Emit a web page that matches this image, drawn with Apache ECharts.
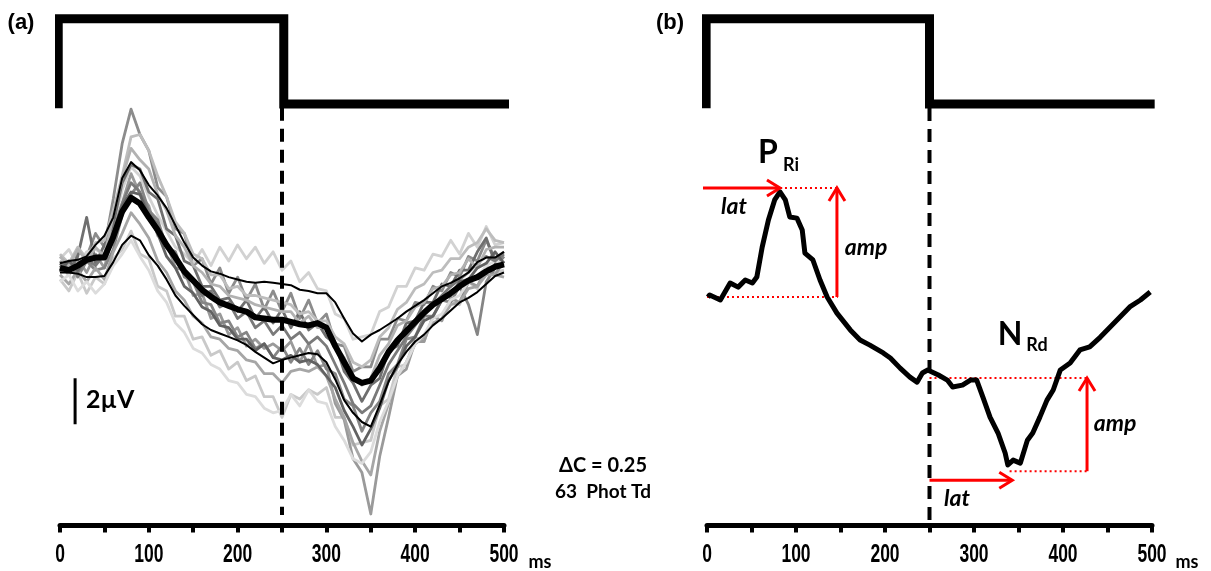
<!DOCTYPE html>
<html>
<head>
<meta charset="utf-8">
<script src="https://cdn.jsdelivr.net/npm/echarts@6/dist/echarts.min.js"></script>
<style>
  html, body { margin: 0; padding: 0; background: #fff; }
  #chart { width: 1211px; height: 571px; }
</style>
</head>
<body>
<div id="chart"></div>
<script>
// ---------- Panel (a): single sweeps, their spread and the average (µV vs ms) ----------
const timesA = [0,10,20,30,40,50,60,70,80,90,100,110,120,130,140,150,160,170,180,190,
  200,210,220,230,240,250,260,270,280,290,300,310,320,330,340,350,360,370,380,390,
  400,410,420,430,440,450,460,470,480,490,500];

const meanA = [0,-0.1,0.1,0.35,0.45,0.45,1.35,2.45,3.05,2.8,
  2.2,1.65,1.0,0.45,-0.15,-0.55,-0.95,-1.25,-1.5,-1.65,
  -1.8,-1.9,-2.15,-2.2,-2.25,-2.25,-2.35,-2.45,-2.5,-2.4,
  -2.6,-3.4,-4.1,-4.8,-5.0,-4.9,-4.35,-3.65,-3.15,-2.75,
  -2.35,-1.95,-1.6,-1.35,-1.1,-0.8,-0.55,-0.4,-0.15,0.05,
  0.15];

const upperA = [0.2,0.3,0.35,0.5,1.0,1.4,2.2,3.9,4.6,4.25,
  3.6,3.15,2.6,1.85,1.1,0.45,0.1,-0.15,-0.25,-0.4,
  -0.5,-0.6,-0.65,-0.6,-0.65,-0.7,-0.75,-0.95,-1.0,-1.1,
  -1.1,-1.5,-2.2,-2.85,-3.2,-2.9,-2.7,-2.45,-2.2,-1.9,
  -1.65,-1.4,-1.1,-0.8,-0.65,-0.45,-0.2,0.25,0.45,0.45,
  0.7];

const lowerA = [-0.2,-0.2,-0.25,-0.4,-0.4,-0.35,0.25,1.0,1.4,1.2,
  0.55,0.1,-0.5,-1.2,-1.65,-2.05,-2.45,-2.7,-2.85,-3.0,
  -3.15,-3.35,-3.65,-3.9,-4.15,-4.0,-3.9,-3.8,-3.7,-3.75,
  -4.1,-4.85,-5.75,-6.3,-6.7,-6.9,-5.95,-4.95,-4.2,-3.65,
  -3.2,-2.9,-2.5,-2.2,-1.85,-1.5,-1.3,-1.05,-0.7,-0.35,
  -0.2];

const sweep1 = [0.3,-0.1,0.7,0.5,1.5,0.9,3.0,5.4,6.9,5.8, 5.1,3.5,3.1,1.7,1.5,0.1,0.4,-0.7,0.0,-1.1,
  -0.4,-1.4,-0.7,-1.8,-1.0,-1.9,-1.1,-2.2,-1.4,-2.4, -2.0,-3.3,-3.4,-4.5,-4.3,-4.3,-3.1,-3.1,-2.2,-2.3,
  -1.5,-1.6,-0.8,-1.0,-0.2,-0.4,0.5,0.3,1.2,0.4, 0.7];
const sweep2 = [-0.5,-1.0,-0.2,-1.1,-0.4,-0.7,0.4,0.8,1.6,0.6, 0.4,-0.8,-1.0,-2.1,-2.1,-3.1,-3.0,-3.8,-3.6,-4.4,
  -4.1,-4.9,-4.7,-5.6,-5.6,-6.5,-5.5,-5.7,-5.3,-5.5, -5.2,-6.5,-6.5,-7.7,-7.6,-7.5,-6.0,-5.7,-4.3,-4.2,
  -3.0,-3.2,-2.1,-2.3,-1.4,-1.6,-0.6,-0.9,0.1,-0.2, -0.1];
const sweep3 = [0.1,-0.3,0.4,-0.2,0.6,0.0,1.6,2.8,4.1,3.2, 2.7,1.4,1.1,0.0,-0.1,-1.2,-1.1,-2.2,-2.0,-2.9,
  -2.6,-3.4,-3.1,-3.5,-3.3,-3.6,-3.2,-4.1,-3.3,-4.3, -4.2,-5.9,-6.6,-8.3,-8.9,-10.7,-8.2,-6.5,-4.7,-4.4,
  -3.2,-3.2,-2.1,-2.3,-1.3,-1.5,-0.6,-0.8,0.0,-0.3, 0.3];
const sweep4 = [0.4,0.8,0.1,0.7,0.8,0.6,1.8,3.4,4.4,4.0, 3.1,2.3,1.6,0.9,0.6,0.2,0.8,0.1,0.9,0.3,
  1.0,0.4,0.9,0.2,0.7,-0.1,0.3,-0.6,-0.2,-0.9, -1.0,-2.0,-2.2,-3.1,-3.0,-2.9,-1.9,-1.7,-0.8,-0.8,
  0.0,-0.1,0.6,0.5,1.2,0.6,1.5,0.9,1.8,1.0, 1.1];
const sweep5 = [0.2,-0.2,0.5,2.2,0.2,1.0,1.9,3.7,4.5,4.3, 3.3,3.0,1.7,1.4,0.3,0.1,-0.8,-0.8,-1.4,-1.3,
  -1.9,-1.4,-2.2,-1.7,-2.4,-1.8,-2.6,-1.9,-2.7,-2.4, -3.0,-3.3,-4.5,-5.0,-5.8,-5.1,-4.8,-3.6,-3.4,-2.4,
  -2.3,-1.5,-1.5,-0.7,-0.8,-0.1,-0.1,0.7,1.3,0.2, 0.1];
const sweep6 = [-0.2,0.2,-0.4,0.3,-0.1,0.0,0.8,2.3,3.2,3.7, 2.5,2.1,0.9,0.7,-0.4,-0.6,-1.5,-1.6,-2.4,-2.3,
  -3.0,-2.8,-3.5,-3.3,-3.9,-3.4,-4.1,-3.5,-4.2,-3.6, -4.4,-4.6,-5.7,-6.0,-7.1,-6.3,-5.8,-4.6,-4.2,-3.1,
  -3.0,-2.1,-2.1,-1.4,-1.5,-0.8,-1.6,-2.9,-0.6,0.0, 0.5];
const sweep7 = [0.6,0.2,0.9,0.4,1.1,1.2,2.5,4.0,5.7,5.8, 5.1,4.0,3.1,2.0,1.5,0.6,0.4,-0.3,-0.3,-0.9,
  -0.8,-1.2,-1.2,-1.3,-1.4,-1.5,-1.6,-2.0,-1.9,-2.3, -2.3,-3.0,-3.3,-4.1,-4.3,-4.0,-3.0,-2.6,-1.8,-1.5,
  -0.9,-0.7,-0.2,-0.1,0.4,0.4,0.9,1.1,1.7,1.2, 1.1];
const sweep8 = [-0.3,-0.7,-0.1,-0.6,0.0,-0.5,0.7,1.5,2.4,1.9, 1.3,0.3,-0.2,-1.0,-1.4,-2.1,-2.4,-3.0,-3.1,-3.5,
  -3.6,-4.0,-4.1,-4.6,-4.6,-5.0,-4.5,-4.4,-4.5,-4.3, -4.7,-5.7,-6.5,-7.6,-8.4,-9.0,-7.1,-5.9,-4.7,-4.1,
  -3.3,-3.0,-2.4,-2.2,-1.6,-1.5,-0.9,-0.8,-0.3,-0.3, -0.4];
const sweep9 = [-0.6,-0.3,-1.0,-0.6,-1.1,-0.7,0.1,0.6,1.2,0.5, -0.1,-1.0,-1.5,-2.4,-2.8,-3.5,-3.7,-4.2,-4.4,-4.9,
  -5.0,-5.5,-5.6,-6.1,-6.3,-6.2,-5.5,-6.0,-5.3,-5.8, -5.9,-6.9,-7.5,-8.3,-8.5,-8.0,-6.7,-5.8,-4.7,-4.1,
  -3.3,-2.9,-2.2,-2.0,-1.4,-1.2,-0.6,-0.4,0.1,0.3, 0.2];
const sweep10 = [0.0,0.3,-0.2,0.4,0.1,0.6,1.6,2.8,3.7,3.3, 2.4,1.9,1.0,0.6,-0.3,-0.5,-1.2,-1.0,-1.7,-1.5,
  -2.2,-1.9,-2.6,-2.3,-2.9,-2.5,-3.1,-2.8,-3.3,-3.0, -3.4,-4.2,-5.0,-5.9,-6.3,-6.0,-5.1,-4.2,-3.6,-3.0,
  -2.5,-2.0,-1.6,-1.2,-0.8,-0.5,-0.2,0.2,0.5,0.3, 0.6];
const sweep11 = [0.5,0.1,0.8,0.3,0.9,0.5,2.3,3.9,5.2,4.7, 4.3,3.2,2.5,1.4,0.9,0.1,-0.2,-0.7,-0.8,-1.2,
  -1.3,-1.4,-1.6,-1.7,-1.8,-1.9,-1.9,-2.4,-2.1,-2.6, -2.6,-3.4,-3.9,-4.7,-5.1,-4.8,-3.8,-3.3,-2.5,-2.3,
  -1.7,-1.5,-0.9,-0.8,-0.3,-0.2,0.4,0.0,0.8,0.9, 0.9];
const sweep12 = [-0.1,0.3,-0.1,0.4,0.5,0.5,1.2,2.7,3.3,3.2, 2.2,1.5,0.5,0.0,-0.8,-1.1,-1.7,-1.9,-2.5,-2.6,
  -3.1,-3.1,-3.6,-3.3,-3.9,-4.0,-3.8,-4.1,-4.0,-4.2, -4.7,-5.2,-6.2,-6.9,-7.7,-7.0,-6.1,-4.9,-4.3,-3.4,
  -3.0,-2.3,-2.1,-1.4,-1.2,-0.6,-0.5,0.0,0.2,0.7, 0.2];

const sweepsA = [sweep1, sweep2, sweep3, sweep4, sweep5, sweep6, sweep7, sweep8, sweep9, sweep10, sweep11, sweep12];
const sweepGreys = ['#8c8c8c', '#c9c9c9', '#9a9a9a', '#d2d2d2', '#6f6f6f', '#858585',
                    '#bdbdbd', '#a6a6a6', '#dcdcdc', '#7a7a7a', '#b2b2b2', '#626262'];

// ---------- Panel (b): averaged response with PRi / NRd measurements ----------
const timesB = [1,3,15,26,35,43,51,56,62,69,76,82,88,93,101,107,110,119,127,135,
  146,161,172,183,198,206,217,228,236,242,248,260,270,276,287,296,303,310,318,327,
  335,338,344,352,360,366,374,382,389,397,408,419,430,442,453,464,475,487,498];
const valuesB = [0,0.09,-0.13,0.61,0.43,0.74,0.61,0.87,2.17,3.35,
  4.22,4.57,4.22,3.48,3.43,2.91,1.91,1.61,0.74,0,
  -0.70,-1.43,-1.87,-2.09,-2.43,-2.65,-3.09,-3.48,-3.70,-3.30,
  -3.17,-3.39,-3.61,-3.91,-3.83,-3.61,-3.61,-4.35,-5.22,-5.91,
  -6.78,-7.30,-7.09,-7.22,-6.22,-5.91,-5.22,-4.48,-4.04,-3.17,
  -2.87,-2.30,-2.17,-1.74,-1.30,-0.87,-0.43,-0.13,0.22];

const priPeak = [82, 4.74];     // PRi latency (ms), level (µV)
const priBase = 0;              // pre-stimulus baseline (µV)
const nrdTrough = [340, -7.57]; // NRd latency (ms), level (µV)
const nrdBase = -3.52;          // level at stimulus offset (µV)
const offsetMs = 250;           // stimulus offset (ms)

// Stimulus time course (on = 1, off = 0)
const stimA = [[-2, -0.05], [-2, 1], [252, 1], [252, 0], [509, 0]];
const stimB = [[-1, -0.05], [-1, 1], [250, 1], [250, 0], [503, 0]];

const xTicks = [0, 100, 200, 300, 400, 500];

// ---------- helpers ----------
const pairs = (ts, vs) => ts.map((t, i) => [t, vs[i]]);
const FONT = 'Lato, "Open Sans", sans-serif';
const RED = '#ff0000';

function xAxisFor(gridIndex) {
  return {
    gridIndex, type: 'value', min: 0, max: 500, interval: 50,
    axisLine: { show: true, onZero: false, lineStyle: { color: '#000', width: 5, cap: 'round' } },
    axisTick: { show: true, length: 7, lineStyle: { color: '#000', width: 4 } },
    axisLabel: { show: false },
    splitLine: { show: false }
  };
}
function hiddenY(gridIndex, min, max) {
  return { gridIndex, type: 'value', min, max, show: false, splitLine: { show: false } };
}
function lineSeries(xi, yi, data, color, width, extra) {
  return Object.assign({
    type: 'line', xAxisIndex: xi, yAxisIndex: yi, data,
    showSymbol: false, symbol: 'none', smooth: false, silent: true,
    lineStyle: { color, width, join: 'round' }
  }, extra || {});
}

// Arrow: straight shaft with an open chevron head at the end point
function arrowRender(params, api) {
  const p1 = api.coord([api.value(0), api.value(1)]);
  const p2 = api.coord([api.value(2), api.value(3)]);
  const dx = p2[0] - p1[0], dy = p2[1] - p1[1];
  const len = Math.hypot(dx, dy) || 1, ux = dx / len, uy = dy / len;
  const L = 13, W = 8;
  const a = [p2[0] - L * ux - W * uy, p2[1] - L * uy + W * ux];
  const b = [p2[0] - L * ux + W * uy, p2[1] - L * uy - W * ux];
  return {
    type: 'group', children: [
      { type: 'line', shape: { x1: p1[0], y1: p1[1], x2: p2[0] - ux, y2: p2[1] - uy },
        style: { stroke: RED, lineWidth: 3 } },
      { type: 'polyline', shape: { points: [a, p2, b] },
        style: { stroke: RED, lineWidth: 3, fill: null, lineJoin: 'miter' } }
    ]
  };
}
function dottedRender(params, api) {
  const p1 = api.coord([api.value(0), api.value(1)]);
  const p2 = api.coord([api.value(2), api.value(3)]);
  return { type: 'line', shape: { x1: p1[0], y1: p1[1], x2: p2[0], y2: p2[1] },
           style: { stroke: RED, lineWidth: 2, lineDash: [2, 3] } };
}

const arrowsB = [
  [-4.5, priPeak[1], priPeak[0], priPeak[1]],
  [146, priBase, 146, priPeak[1]],
  [427, nrdTrough[1], 427, nrdBase],
  [offsetMs, -7.96, nrdTrough[0] + 3, -7.96]
];
const dottedB = [
  [priPeak[0], priPeak[1], 147, priPeak[1]],
  [0, priBase, 147, priBase],
  [offsetMs, nrdBase, 428, nrdBase],
  [nrdTrough[0], nrdTrough[1], 428, nrdTrough[1]]
];

// ---------- series ----------
const series = [];
sweepsA.forEach((s, i) => series.push(lineSeries(0, 0, pairs(timesA, s), sweepGreys[i], 2.8)));
series.push(lineSeries(0, 0, [[offsetMs, 6.96], [offsetMs, -10.74]], '#000', 4,
  { lineStyle: { color: '#000', width: 4, type: [13, 8] } }));
series.push(lineSeries(0, 0, pairs(timesA, upperA), '#000', 2));
series.push(lineSeries(0, 0, pairs(timesA, lowerA), '#000', 2));
series.push(lineSeries(0, 0, pairs(timesA, meanA), '#000', 6));
series.push(lineSeries(0, 1, stimA, '#000', 9, { clip: false, lineStyle: { color: '#000', width: 9, join: 'miter', cap: 'butt' } }));
// 2 µV calibration bar
series.push(lineSeries(0, 0, [[17, -4.8], [17, -6.8]], '#000', 3, { lineStyle: { color: '#000', width: 3, cap: 'butt' } }));

series.push(lineSeries(1, 2, [[offsetMs, 8.22], [offsetMs, -10.04]], '#000', 4,
  { lineStyle: { color: '#000', width: 4, type: [13, 8] } }));
series.push(lineSeries(1, 2, pairs(timesB, valuesB), '#000', 5));
series.push(lineSeries(1, 3, stimB, '#000', 9, { clip: false, lineStyle: { color: '#000', width: 9, join: 'miter', cap: 'butt' } }));
series.push({ type: 'custom', xAxisIndex: 1, yAxisIndex: 2, data: dottedB, silent: true,
  encode: { x: [0, 2], y: [1, 3] }, renderItem: dottedRender, z: 3 });
series.push({ type: 'custom', xAxisIndex: 1, yAxisIndex: 2, data: arrowsB, silent: true,
  encode: { x: [0, 2], y: [1, 3] }, renderItem: arrowRender, z: 4 });

// ---------- text ----------
function txt(x, y, text, size, opts) {
  const o = opts || {};
  return {
    type: 'text', x, y, silent: true, scaleX: o.scaleX || 1,
    style: {
      text, fill: '#000',
      font: (o.italic ? 'italic ' : '') + 'bold ' + size + 'px ' + (o.family || FONT),
      align: o.align || 'center', verticalAlign: 'middle'
    }
  };
}
const graphics = [
  txt(21, 23, '(a)', 22, { family: '"Liberation Sans", Arial, sans-serif' }),
  txt(670, 23, '(b)', 22, { family: '"Liberation Sans", Arial, sans-serif' }),
  txt(86, 400, '2\u00B5V', 25, { align: 'left' }),
  txt(603, 466, '\u0394C = 0.25', 20),
  txt(603, 492, '63  Phot Td', 19),
  txt(540, 562, 'ms', 18),
  txt(1187, 562, 'ms', 18),
  txt(768, 153, 'P', 32),
  txt(791, 165, 'Ri', 18),
  txt(1010, 335, 'N', 32),
  txt(1037, 345, 'Rd', 18),
  txt(734, 207, 'lat', 23, { italic: true }),
  txt(866, 248, 'amp', 23, { italic: true }),
  txt(1115, 424, 'amp', 23, { italic: true }),
  txt(957, 499, 'lat', 23, { italic: true })
];

const chart = echarts.init(document.getElementById('chart'), null, { renderer: 'canvas' });
chart.setOption({
  animation: false,
  backgroundColor: '#fff',
  textStyle: { fontFamily: FONT },
  grid: [
    { left: 60, right: 707, top: 14, bottom: 45.5, containLabel: false, outerBoundsMode: 'none' },
    { left: 707, right: 59, top: 14, bottom: 45.5, containLabel: false, outerBoundsMode: 'none' }
  ],
  xAxis: [xAxisFor(0), xAxisFor(1)],
  yAxis: [
    hiddenY(0, -11.2, 11.04),
    hiddenY(0, -4.941, 1.055),
    hiddenY(1, -9.93, 12.30),
    hiddenY(1, -4.941, 1.055)
  ],
  series
});

// Tick labels in a narrow bold face, placed at each labelled tick of both time axes
const tickLabels = [];
[0, 1].forEach(ai => {
  xTicks.forEach(v => {
    const px = chart.convertToPixel({ xAxisIndex: ai }, v);
    tickLabels.push(txt(px, 555, String(v), 25,
      { family: '"Liberation Sans", Arial, sans-serif', scaleX: 0.7 }));
  });
});
chart.setOption({ graphic: graphics.concat(tickLabels) });
</script>
</body>
</html>
